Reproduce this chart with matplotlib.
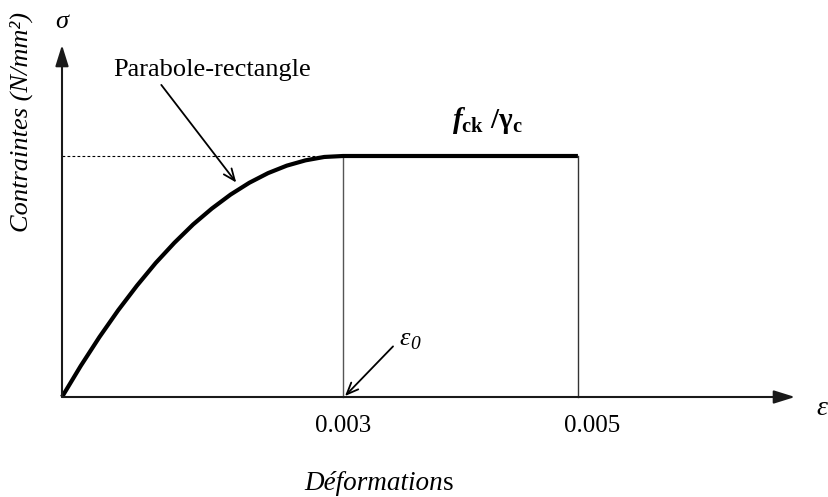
import matplotlib.pyplot as plt
import numpy as np

plt.rcParams['font.family'] = ['Liberation Serif', 'DejaVu Serif']
plt.rcParams['mathtext.fontset'] = 'custom'
plt.rcParams['mathtext.rm'] = 'Liberation Serif'
plt.rcParams['mathtext.it'] = 'Liberation Serif:italic'
plt.rcParams['mathtext.bf'] = 'Liberation Serif:bold'
plt.rcParams['mathtext.bfit'] = 'Liberation Serif:italic:bold'

# parabola-rectangle law (stress as a fraction of fck/gamma_c)
eps0 = 0.003
eps_cu = 0.005
strain = [0, 0.0002, 0.0004, 0.0006, 0.0008, 0.0010, 0.0012, 0.0014, 0.0016,
          0.0018, 0.0020, 0.0022, 0.0024, 0.0026, 0.0028, 0.0030, 0.0050]
stress = [0, 0.129, 0.249, 0.36, 0.462, 0.556, 0.64, 0.716, 0.782,
          0.84, 0.889, 0.929, 0.96, 0.982, 0.996, 1.0, 1.0]
tick_values = [0.003, 0.005]
tick_labels = ['0.003', '0.005']

# schematic axis: the plateau part is drawn shorter than to scale
k = 0.836


def forward(x):
    x = np.asarray(x, dtype=float)
    return np.where(x <= eps0, x / eps0, 1 + (x - eps0) / (eps_cu - eps0) * k)


def inverse(u):
    u = np.asarray(u, dtype=float)
    return np.where(u <= 1, u * eps0, eps0 + (u - 1) / k * (eps_cu - eps0))


fig = plt.figure(figsize=(8.29, 4.97), dpi=100)
ax = fig.add_axes([0, 0, 1, 1])
ax.set_xscale('function', functions=(forward, inverse))
ax.set_xlim(float(inverse(-62 / 281)), float(inverse(767 / 281)))
ax.set_ylim(-100 / 241, 397 / 241)
ax.axis('off')

# axes with arrow heads
arrow_kw = dict(arrowstyle='-|>,head_length=0.8,head_width=0.25',
                color='#1a1a1a', lw=1.5, mutation_scale=16, shrinkA=0, shrinkB=0)
ax.annotate('', xy=(float(inverse(733 / 281)), 0), xytext=(0, 0), arrowprops=arrow_kw)
ax.annotate('', xy=(0, 352 / 241), xytext=(0, 0), arrowprops=arrow_kw)

# guides
ax.plot([0, eps0], [1, 1], color='black', lw=0.8, ls=(0, (2.5, 2)))
ax.plot([eps0, eps0], [0, 1], color='#555555', lw=1.0)
ax.plot([eps_cu, eps_cu], [0, 1], color='#333333', lw=1.0)

# the law itself
ax.plot(strain, stress, color='black', lw=3.0, solid_capstyle='butt')

# tick labels
ax.text(tick_values[0], -0.12, tick_labels[0], ha='center', va='center', fontsize=18)
ax.text(0.00512, -0.12, tick_labels[1], ha='center', va='center', fontsize=18)

# axis names
ax.text(0, 1.556, 'σ', ha='center', va='center', fontsize=19, style='italic')
ax.text(0.00708, -0.046, 'ε', ha='center', va='center', fontsize=20, style='italic')
ax.text(-0.00043, 1.141, 'Contraintes (N/mm²)', ha='center', va='center',
        rotation=90, fontsize=19, style='italic')
ax.text(0.00385, -0.357, 'Déformation', ha='right', va='center', fontsize=19.5, style='italic')
ax.text(0.00385, -0.357, 's', ha='left', va='center', fontsize=19.5)

# annotations
ax.text(0.0016, 1.357, 'Parabole-rectangle', ha='center', va='center', fontsize=19)
ax.annotate('', xy=(0.00186, 0.89), xytext=(0.00106, 1.295),
            arrowprops=dict(arrowstyle='->,head_length=0.6,head_width=0.25',
                            color='black', lw=1.3, mutation_scale=14, shrinkA=0, shrinkB=0))
ax.text(0.004225, 1.149, r'$\mathbfit{f}_{\mathbf{ck}}\ \mathbf{/\gamma}_{\mathbf{c}}$',
        ha='center', va='center', fontsize=21)
ax.text(0.00357, 0.24, 'ε', ha='right', va='center', fontsize=19, style='italic')
ax.annotate('0', xy=(0.00357, 0.24), xytext=(0, -4), textcoords='offset points',
            ha='left', va='center', fontsize=14, style='italic')
ax.annotate('', xy=(0.003017, 0.004), xytext=(0.003426, 0.21),
            arrowprops=dict(arrowstyle='->,head_length=0.6,head_width=0.25',
                            color='black', lw=1.3, mutation_scale=14, shrinkA=0, shrinkB=0))

fig.savefig('out.png', dpi=100)
